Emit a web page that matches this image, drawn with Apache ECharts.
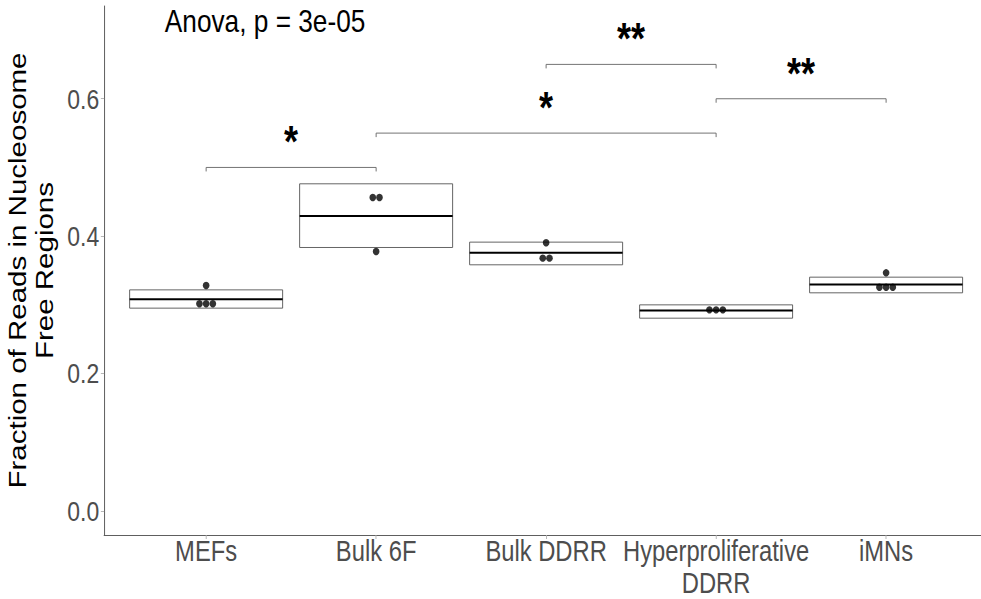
<!DOCTYPE html>
<html><head><meta charset="utf-8">
<script src="https://cdn.jsdelivr.net/npm/echarts@6/dist/echarts.min.js"></script>
<style>
html,body{margin:0;padding:0;background:#fff;overflow:hidden;width:981px;height:599px}
#c{width:1197px;height:599px;transform:scaleX(0.82);transform-origin:0 0}
</style>
</head><body><div id="c"></div>
<script>
const categories = ['MEFs', 'Bulk 6F', 'Bulk DDRR', 'Hyperproliferative\nDDRR', 'iMNs'];
const boxLower  = [0.2952, 0.3835, 0.3583, 0.2806, 0.3175];
const boxMedian = [0.3083, 0.4292, 0.3757, 0.2917, 0.3296];
const boxUpper  = [0.3218, 0.4762, 0.3913, 0.3000, 0.3403];
const dotMEFs  = [0.3015, 0.3015, 0.3015, 0.3281];
const dotBulk6F = [0.4563, 0.4563, 0.3776];
const dotBulkDDRR = [0.3903, 0.3680, 0.3680];
const dotHyper = [0.2927, 0.2927, 0.2927];
const dotIMNs = [0.3466, 0.3257, 0.3257, 0.3257];
const yTicks = [0, 0.2, 0.4, 0.6];
const compFrom  = [1, 3, 2, 4];
const compTo    = [2, 4, 4, 5];
const compY     = [0.50, 0.65, 0.55, 0.60];
const compLabel = ['*', '**', '*', '**'];
const anovaLabel = 'Anova, p = 3e-05';
const yTitle = 'Fraction of Reads in Nucleosome\nFree Regions';

const SANS = '"Liberation Sans", Arial, sans-serif';
const dotGroups = [dotMEFs, dotBulk6F, dotBulkDDRR, dotHyper, dotIMNs];
const dotStep = 0.0394;

const dotData = [];
dotGroups.forEach((vals, i) => {
  const counts = {};
  vals.forEach(v => { counts[v] = (counts[v] || 0) + 1; });
  const seen = {};
  vals.forEach(v => {
    const n = counts[v];
    const j = seen[v] || 0; seen[v] = j + 1;
    dotData.push([i + 1 + (j - (n - 1) / 2) * dotStep, v]);
  });
});
const catPos = categories.map((c, i) => i + 1);

const chart = echarts.init(document.getElementById('c'), null, {renderer: 'svg'});
chart.setOption({
  animation: false,
  backgroundColor: '#fff',
  grid: {left: 127, right: -8, top: 6, bottom: 64, outerBoundsMode: 'none', containLabel: false},
  xAxis: {
    type: 'value', min: 0.4, max: 5.6,
    axisLine: {onZero: false, lineStyle: {color: '#4d4d4d', width: 1}},
    axisTick: {customValues: catPos, length: 4, lineStyle: {color: '#b0b0b0'}},
    axisLabel: {customValues: catPos, formatter: v => categories[Math.round(v) - 1],
      color: '#4d4d4d', fontSize: 29, fontFamily: SANS, lineHeight: 32, margin: 0},
    splitLine: {show: false}
  },
  yAxis: {
    type: 'value', min: -0.035, max: 0.735,
    name: yTitle, nameLocation: 'middle', nameRotate: 90, nameGap: 33,
    nameTextStyle: {color: '#000', fontSize: 29.5, fontFamily: SANS, lineHeight: 33},
    axisLine: {onZero: false, lineStyle: {color: '#4d4d4d', width: 1}},
    axisTick: {customValues: yTicks, length: 4, lineStyle: {color: '#b0b0b0'}},
    axisLabel: {customValues: yTicks, formatter: v => v.toFixed(1),
      color: '#4d4d4d', fontSize: 28, fontFamily: SANS, margin: 6},
    splitLine: {show: false}
  },
  series: [
    {
      type: 'custom', z: 2,
      data: catPos.map((p, i) => [p, boxLower[i], boxMedian[i], boxUpper[i]]),
      encode: {x: 0, y: [1, 2, 3]},
      renderItem: (params, api) => {
        const x = api.value(0);
        const half = api.size([0.9, 0])[0] / 2;
        const pLo = api.coord([x, api.value(1)]);
        const pMed = api.coord([x, api.value(2)]);
        const pHi = api.coord([x, api.value(3)]);
        return {type: 'group', children: [
          {type: 'rect', shape: {x: pLo[0] - half, y: pHi[1], width: 2 * half, height: pLo[1] - pHi[1]},
           style: {fill: '#fff', stroke: '#555', lineWidth: 1}},
          {type: 'line', shape: {x1: pMed[0] - half, y1: pMed[1], x2: pMed[0] + half, y2: pMed[1]},
           style: {stroke: '#000', lineWidth: 2}}
        ]};
      }
    },
    {
      type: 'scatter', z: 3, data: dotData, symbolSize: [8.2, 7.4],
      itemStyle: {color: '#000'}
    },
    {
      type: 'custom', z: 4, clip: false,
      data: compFrom.map((f, i) => [f, compTo[i], compY[i], i]),
      encode: {x: [0, 1], y: 2},
      renderItem: (params, api) => {
        const p1 = api.coord([api.value(0), api.value(2)]);
        const p2 = api.coord([api.value(1), api.value(2)]);
        const lbl = compLabel[api.value(3)];
        return {type: 'group', children: [
          {type: 'polyline', shape: {points: [[p1[0], p1[1] + 4], [p1[0], p1[1]], [p2[0], p2[1]], [p2[0], p2[1] + 4]]},
           style: {stroke: '#666', lineWidth: 1, fill: null}},
          {type: 'text', x: (p1[0] + p2[0]) / 2, y: p1[1] - 25,
           style: {text: lbl, fill: '#000', font: 'bold 44px ' + SANS, align: 'center', verticalAlign: 'middle'}}
        ]};
      }
    }
  ],
  graphic: [
    {type: 'text', left: 201, top: 5,
     style: {text: anovaLabel, fill: '#000', font: '32px ' + SANS}}
  ]
});
</script></body></html>
